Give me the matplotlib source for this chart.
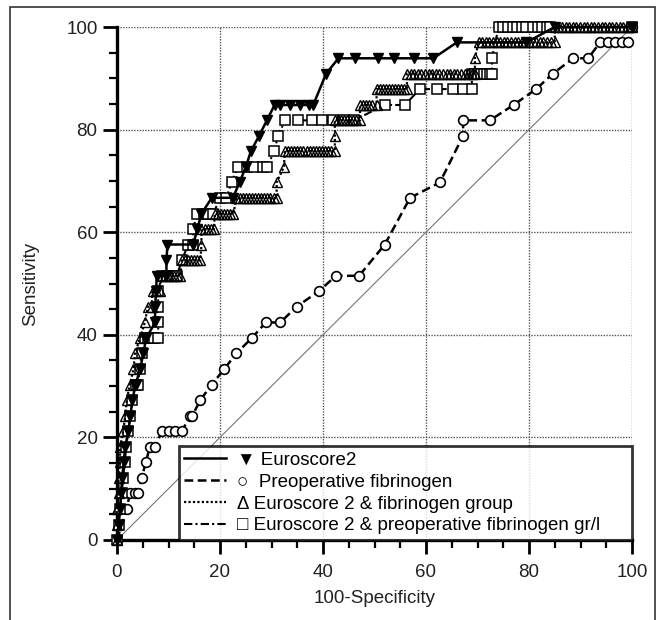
import matplotlib
matplotlib.use("Agg")
import matplotlib.pyplot as plt
from matplotlib.lines import Line2D
from matplotlib.patches import Rectangle

plt.rcParams["font.family"] = ["Liberation Sans", "DejaVu Sans"]

# ── Data ─────────────────────────────────────────────────────────────────────
# Euroscore2
euro_x = [0, 0.3, 0.6, 0.8, 1.0, 1.3, 1.6, 2.2, 2.6, 3.0, 3.6, 4.5, 5.1, 5.7,
          7.4, 7.4, 7.6, 7.7, 9.6, 9.6, 9.8, 14.8, 15.6, 16.4, 18.4, 22.5,
          23.8, 25.0, 26.0, 27.6, 29.1, 30.6, 31.7, 33.6, 35.5, 37.3, 38.1,
          40.6, 43.0, 46.2, 50.7, 53.7, 57.6, 61.4, 66.0, 79.5, 85.0, 100]
euro_y = [0, 3.0, 6.1, 9.1, 12.1, 15.2, 18.2, 21.2, 24.2, 27.3, 30.3, 33.3,
          36.4, 39.4, 42.4, 45.5, 48.5, 51.5, 51.5, 54.5, 57.6, 57.6, 60.6,
          63.6, 66.7, 66.7, 69.7, 72.7, 75.8, 78.8, 81.8, 84.8, 84.8, 84.8,
          84.8, 84.8, 84.8, 90.9, 93.9, 93.9, 93.9, 93.9, 93.9, 93.9, 97.0,
          97.0, 100, 100]

# Preoperative fibrinogen
fib_x = [0, 1.9, 2.5, 3.5, 4.1, 4.8, 5.6, 6.4, 7.4, 8.7, 10.0, 11.3, 12.6,
         14.2, 14.6, 16.2, 18.4, 20.8, 23.2, 26.2, 28.9, 31.7, 34.9, 39.2,
         42.5, 47.0, 52.0, 56.9, 62.7, 67.2, 67.2, 72.4, 77.0, 81.4, 84.6,
         88.6, 91.5, 93.8, 95.4, 96.7, 98.0, 99.3, 100]
fib_y = [0, 6.1, 9.1, 9.1, 9.1, 12.1, 15.2, 18.2, 18.2, 21.2, 21.2, 21.2,
         21.2, 24.2, 24.2, 27.3, 30.3, 33.3, 36.4, 39.4, 42.4, 42.4, 45.5,
         48.5, 51.5, 51.5, 57.6, 66.7, 69.7, 78.8, 81.8, 81.8, 84.8, 87.9,
         90.9, 93.9, 93.9, 97.0, 97.0, 97.0, 97.0, 97.0, 100]

# Euroscore 2 & fibrinogen group: sensitivity levels and the x values on each
grp_levels = [0, 3.0, 6.1, 9.1, 12.1, 15.2, 18.2, 21.2, 24.2, 27.3, 30.3,
              33.3, 36.4, 39.4, 42.4, 45.5, 48.5, 51.5, 54.5, 57.6, 60.6,
              63.6, 66.7, 69.7, 72.7, 75.8, 78.8, 81.8, 84.8, 87.9, 90.9,
              93.9, 97.0, 100]
grp_runs = [
    [0], [0], [0], [0.3], [0.3], [0.6], [0.6], [1.2], [1.6], [1.9], [2.5],
    [3.2], [3.5], [4.5], [5.4],
    [6.0, 6.7],
    [6.9, 7.6, 8.3],
    [8.7, 9.3, 9.9, 10.5, 11.1, 11.7, 12.3],
    [12.6, 13.2, 13.8, 14.4, 15.0, 15.6, 16.2],
    [16.4],
    [16.4, 17.0, 17.6, 18.2, 18.8],
    [19.0, 19.6, 20.2, 20.8, 21.4, 22.0, 22.6],
    [23.2, 23.8, 24.4, 25.0, 25.6, 26.2, 26.8, 27.4, 28.0, 28.6, 29.2, 29.8,
     30.4, 31.0],
    [31.0],
    [32.4],
    [32.6, 33.2, 33.8, 34.4, 35.0, 35.6, 36.2, 36.8, 37.4, 38.0, 38.6, 39.2,
     39.8, 40.4, 41.0, 41.6, 42.3],
    [42.3],
    [42.3, 42.9, 43.5, 44.1, 44.7, 45.3, 45.9, 46.5, 47.2],
    [47.2, 47.8, 48.4, 49.0, 49.6, 50.4],
    [50.4, 51.0, 51.6, 52.2, 52.8, 53.4, 54.0, 54.6, 55.2, 55.8, 56.3],
    [56.3, 57.0, 57.7, 58.4, 59.1, 59.8, 60.5, 61.2, 61.9, 62.6, 63.3, 64.0,
     64.7, 65.4, 66.1, 66.8, 67.5, 68.2, 68.9, 69.5],
    [69.5],
    [70.2, 70.9, 71.6, 72.3, 73.0, 73.7, 74.4, 75.1, 75.8, 76.5, 77.2, 77.9,
     78.6, 79.3, 80.0, 80.7, 81.4, 82.1, 82.8, 83.5, 84.2, 85.0],
    [85.0, 85.7, 86.4, 87.1, 87.8, 88.5, 89.2, 89.9, 90.6, 91.3, 92.0, 92.7,
     93.4, 94.1, 94.8, 95.5, 96.2, 96.9, 97.6, 98.3, 99.0, 99.7, 100],
]

# Euroscore 2 & preoperative fibrinogen gr/l
gl_levels = [0, 3.0, 6.1, 9.1, 12.1, 15.2, 18.2, 21.2, 24.2, 27.3, 30.3,
             33.3, 36.4, 39.4, 42.4, 45.5, 48.5, 51.5, 54.5, 57.6, 60.6,
             63.6, 66.7, 69.7, 72.7, 75.8, 78.8, 81.8, 84.8, 87.9, 90.9,
             93.9, 100]
gl_runs = [
    [0], [0.3], [0.6], [0.9], [1.2], [1.5], [1.8], [2.2], [2.6], [3.0],
    [3.6, 4.1], [4.4], [4.8],
    [5.4, 6.0, 6.6, 7.2, 8.0],
    [8.0], [8.0], [8.0],
    [8.7, 9.7, 10.6, 11.6],
    [12.6],
    [13.8, 14.8],
    [14.8],
    [15.5, 16.8, 17.7, 18.7],
    [20.0, 21.2],
    [22.3],
    [23.4, 25.2, 26.6, 28.4, 29.2],
    [30.5],
    [31.3],
    [32.6, 35.2, 37.8, 39.8, 42.0, 44.0, 46.0],
    [52.0, 55.9],
    [58.8, 62.1, 65.3, 67.2, 68.9],
    [68.9, 69.5, 70.1, 70.7, 71.3, 71.9, 72.4, 72.8],
    [72.8],
    [74.1, 75.0, 75.9, 76.8, 77.7, 78.6, 79.5, 80.8, 81.7, 82.6, 83.5, 84.1,
     100],
]

x_ticks = [0, 20, 40, 60, 80, 100]
y_ticks = [0, 20, 40, 60, 80, 100]

legend_labels = ["\u25BC Euroscore2",
                 "\u25CB  Preoperative fibrinogen",
                 "\u0394 Euroscore 2 & fibrinogen group",
                 "\u25A1 Euroscore 2 & preoperative fibrinogen gr/l"]

grp_x, grp_y = [], []
for lev, run in zip(grp_levels, grp_runs):
    grp_x += run
    grp_y += [lev] * len(run)

gl_x, gl_y = [], []
for lev, run in zip(gl_levels, gl_runs):
    gl_x += run
    gl_y += [lev] * len(run)

# ── Figure ───────────────────────────────────────────────────────────────────
fig = plt.figure(figsize=(6.59, 6.20), dpi=100)
fig.patch.set_facecolor("white")
ax = fig.add_axes([117 / 659, 1 - 540 / 620, 515 / 659, 513 / 620])

# outer frame round the whole picture
fig.patches.append(Rectangle((10 / 659, -0.05), 645 / 659, 1.05 - 7 / 620,
                             transform=fig.transFigure, fill=False,
                             edgecolor="#333333", linewidth=1.2))

ax.plot([0, 100], [0, 100], color="#777777", linewidth=0.8, zorder=2)

ax.plot(fib_x, fib_y, color="black", linestyle=(0, (3.5, 1.8)), linewidth=1.8,
        marker="o", markersize=7, markerfacecolor="white",
        markeredgewidth=1.2, clip_on=False, zorder=4)
ax.plot(gl_x, gl_y, color="black", linestyle=(0, (4, 1.5, 1, 1.5)), linewidth=1.5,
        marker="s", markersize=6.5, markerfacecolor="white",
        markeredgewidth=1.1, clip_on=False, zorder=5)
ax.plot(grp_x, grp_y, color="black", linestyle=(0, (1, 1)), linewidth=1.6,
        marker="^", markersize=7, markerfacecolor="none",
        markeredgewidth=1.0, clip_on=False, zorder=6)
ax.plot(euro_x, euro_y, color="black", linestyle="-", linewidth=1.8,
        marker="v", markersize=6.5, markerfacecolor="black",
        clip_on=False, zorder=7)

ax.set_xlim(0, 100)
ax.set_ylim(0, 100)
ax.set_xticks(x_ticks)
ax.set_yticks(y_ticks)
ax.set_xticks(range(0, 101, 5), minor=True)
ax.set_yticks(range(0, 101, 5), minor=True)
ax.tick_params(which="major", length=10, width=2, labelsize=13.5,
               labelcolor="#222222")
ax.tick_params(which="minor", length=6, width=1.6)
ax.tick_params(axis="x", which="major", pad=7)
ax.tick_params(axis="y", which="major", pad=4)

ax.grid(True, which="major", linestyle=(0, (1, 1)), color="#555555",
        linewidth=1.0)
ax.set_axisbelow(True)
for side in ["top", "right"]:
    ax.spines[side].set_visible(False)
for side in ["left", "bottom"]:
    ax.spines[side].set_linewidth(2.4)

ax.set_xlabel("100-Specificity", fontsize=13.5, color="#222222")
ax.set_ylabel("Sensitivity", fontsize=13.5, color="#222222")
ax.xaxis.set_label_coords(0.5, -0.098)
ax.yaxis.set_label_coords(-0.152, 0.5)

handles = [Line2D([], [], color="black", linewidth=1.8, linestyle="-"),
           Line2D([], [], color="black", linewidth=1.8, linestyle=(0, (3.5, 1.8))),
           Line2D([], [], color="black", linewidth=1.6, linestyle=(0, (1, 1))),
           Line2D([], [], color="black", linewidth=1.5,
                  linestyle=(0, (4, 1.5, 1, 1.5)))]
leg = ax.legend(handles, legend_labels, loc="lower left",
                bbox_to_anchor=(0.12, 0.0, 0.88, 0.197), mode="expand",
                fontsize=13.5, frameon=True, fancybox=False,
                borderaxespad=0, handlelength=2.2, handletextpad=0.6,
                labelspacing=0.25, borderpad=0.3)
leg.get_frame().set_edgecolor("black")
leg.get_frame().set_linewidth(2.0)
leg.set_zorder(10)

fig.savefig("out.png", dpi=100, facecolor="white")
